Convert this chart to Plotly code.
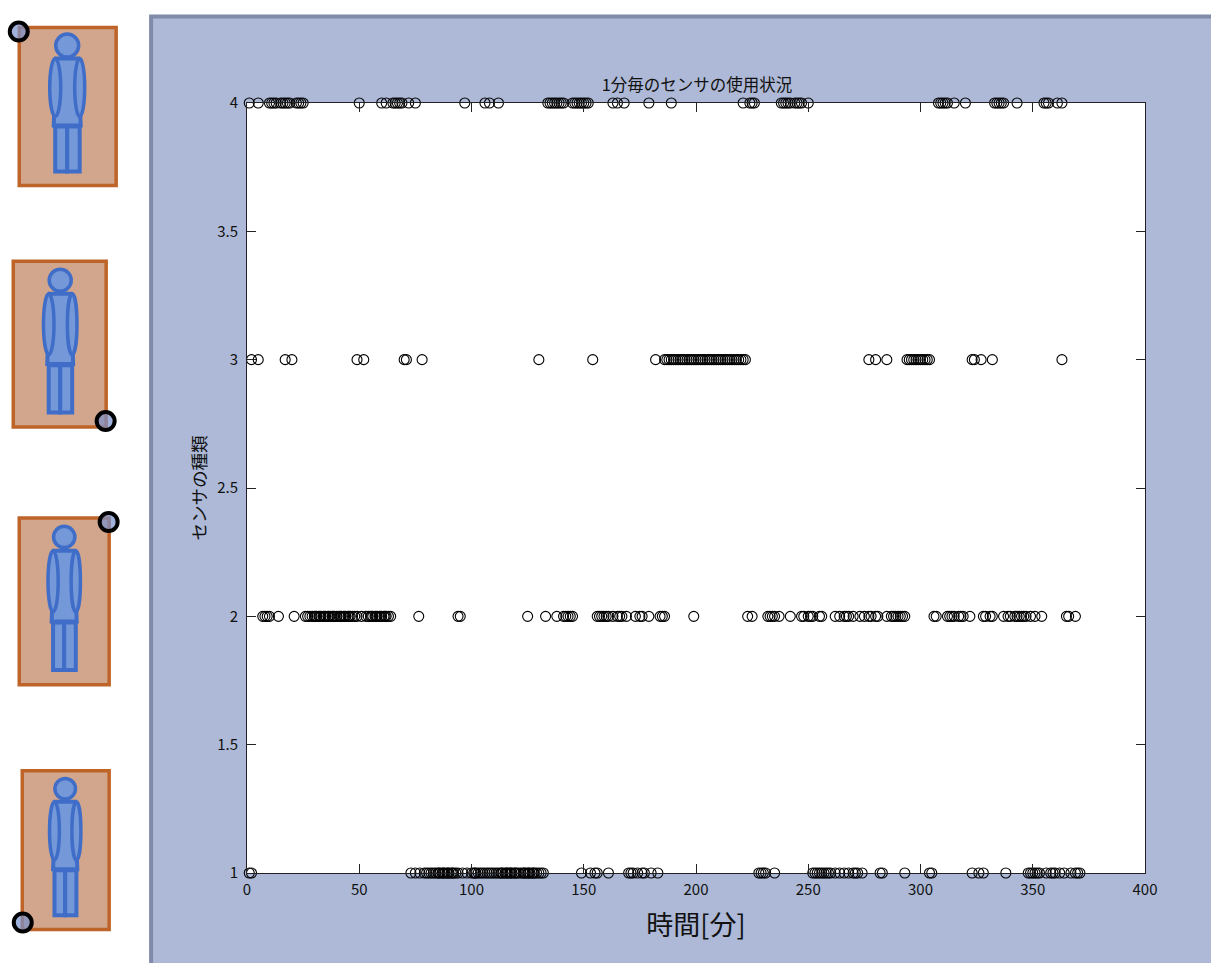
import plotly.graph_objects as go

# minutes at which each sensor was used
sensor1 = [1, 2, 73, 75, 77, 79, 80, 81, 82, 83, 84, 85, 85.5, 86, 87, 87.5, 88, 89, 89.5, 90, 91, 91.5, 92, 93, 94, 96,
           98, 100, 101, 101.5, 102, 103, 104, 105, 106, 107, 108, 109, 110, 111, 112, 113, 113.5, 114, 115, 115.5, 116, 117,
           117.5, 118, 119, 119.5, 120, 121, 122, 123, 123.5, 124, 125, 125.5, 126, 127, 127.5, 128,
           129, 130, 131, 132, 149, 153, 155, 156, 161, 170, 171, 172, 174, 176, 177, 180, 183,
           228, 229, 230, 231, 235, 252, 253, 254, 255, 256, 257, 258, 259, 260, 262, 264, 266, 268, 270, 271, 272,
           274, 282, 283, 293, 304, 305, 323, 326, 328, 338, 348, 349, 350, 351, 352, 353, 356, 358, 359, 360, 362,
           364, 367, 369, 370, 371]
sensor2 = [7, 8, 9, 10, 14, 21, 26, 27, 28, 29, 30, 30.5, 31, 32, 32.5, 33, 34, 34.5, 35, 36, 36.5, 37, 38, 38.5, 39, 40,
           41, 41.5, 42, 43, 43.5, 44, 45, 45.5, 46, 47,
           48, 49, 51, 53, 54, 55, 55.5, 56, 57, 57.5, 58, 59, 59.5, 60, 61, 61.5, 62, 63, 64, 76.5, 94, 95, 125, 133, 138, 141, 142, 143,
           144, 145, 156, 157, 158, 159, 160, 161, 163, 165, 166, 167, 169, 173, 175, 176, 179, 184, 185, 186, 199,
           223, 225, 232, 233, 234, 235, 237, 242, 247, 248, 250, 251, 252, 255, 256, 262, 264, 266, 267, 268, 270,
           273, 275, 277, 278, 280, 281, 285, 287, 288, 289, 290, 291, 292, 293, 306, 307, 312, 313, 314, 315, 317,
           318, 319, 322, 328, 329, 331, 332, 337, 339, 340, 342, 343, 344, 345, 346, 347, 349, 351, 354, 365, 366,
           369]
sensor3 = [2, 5, 17, 20, 49, 52, 70, 71, 78, 130, 154, 182, 186, 187, 188, 189, 190, 191, 192, 193, 194, 195, 196, 197, 198, 199, 200,
           201, 202, 203, 204, 205, 206, 207, 208, 209, 210, 211, 212, 213, 214, 215, 216, 217, 218, 219, 220, 221, 222, 277,
           280, 285, 294, 295, 296, 297, 298, 299, 300, 301, 302, 303, 304, 323, 324, 327, 332, 363]
sensor4 = [1, 5, 10, 11, 12, 13, 15, 16, 17, 18, 19, 22, 23, 24, 25, 50, 60, 62, 65, 66, 67, 68, 69, 72, 75, 97, 106,
           108, 112, 134, 135, 136, 137, 138, 139, 140, 141, 145, 146, 147, 148, 149, 150, 151, 152, 163, 165, 168,
           179, 189, 221, 224, 225, 226, 238, 239, 240, 241, 242, 244, 245, 246, 247, 250, 308, 309, 310, 311, 312,
           315, 320, 333, 334, 335, 336, 337, 343, 355, 356, 357, 361, 363]
sensors = {1: sensor1, 2: sensor2, 3: sensor3, 4: sensor4}

title_text = "1分毎のセンサの使用状況"
x_title = "時間[分]"
y_title = "センサの種類"

W, H = 1211, 963
L, R, T, B = 246.5, 1145.5, 102.5, 873.5
FONT = "Noto Sans CJK JP"


def px(x):
    return (x - L) / (R - L)


def py(y):
    return (B - y) / (B - T)


def rect(x0, y0, x1, y1, fill, line, width=3, kind="rect"):
    return dict(type=kind, xref="paper", yref="paper", x0=px(x0), x1=px(x1), y0=py(y0), y1=py(y1),
                fillcolor=fill, line=dict(color=line, width=width), layer="below")


def person(x0, y0, x1, y1, cx, mark):
    sx = (x1 - x0) / 97
    sy = (y1 - y0) / 158
    blue, light = "#3f6dc8", "#7498d8"
    out = [rect(x0, y0, x1, y1, "#d1a68c", "#bf6428", 3.5)]
    Y = lambda v: y0 + v * sy
    X = lambda v: cx + v * sx
    # legs
    out.append(rect(X(-12), Y(99), X(0), Y(144), light, blue, 4))
    out.append(rect(X(0), Y(99), X(12.5), Y(144), light, blue, 4))
    # torso
    pts = [(X(-11), Y(31)), (X(11), Y(31)), (X(13.5), Y(98)), (X(-13.5), Y(98))]
    path = "M " + " L ".join(f"{px(a):.5f} {py(b):.5f}" for a, b in pts) + " Z"
    out.append(dict(type="path", xref="paper", yref="paper", path=path, fillcolor=light,
                    line=dict(color=blue, width=4), layer="below"))
    # arms
    out.append(rect(X(-17.5), Y(31), X(-6.5), Y(89), light, blue, 3.5, "circle"))
    out.append(rect(X(7.5), Y(31), X(17.5), Y(89), light, blue, 3.5, "circle"))
    # head
    r = 11.5 * sx
    cy = Y(18)
    out.append(rect(cx - r, cy - r, cx + r, cy + r, light, blue, 3.5, "circle"))
    # corner marker
    mx, my = mark
    out.append(rect(mx - 9, my - 9, mx + 9, my + 9, "rgba(120,145,205,0.7)", "#000000", 4, "circle"))
    return out


shapes = [
    rect(150.5, 16, 1240, 1000, "#adb9d6", "#7f8ba8", 4),
    dict(type="rect", xref="x domain", yref="y domain", x0=0, x1=1, y0=0, y1=1,
         fillcolor="#ffffff", line=dict(width=0), layer="below"),
]
shapes += person(18.5, 27, 115.5, 185, 66.5, (18, 31))
shapes += person(12.5, 261, 105.5, 427, 59.5, (105, 421))
shapes += person(18.5, 518, 108.5, 685, 63.5, (108, 522))
shapes += person(21.5, 771, 108.5, 930, 64.5, (22, 923))

fig = go.Figure()
for level, minutes in sensors.items():
    fig.add_trace(go.Scatter(
        x=minutes, y=[level] * len(minutes), mode="markers", cliponaxis=False, showlegend=False,
        marker=dict(symbol="circle-open", size=10, color="#000000", line=dict(color="#000000", width=1.1)),
    ))

axis = dict(showgrid=False, zeroline=False, showline=True, linecolor="#222222", linewidth=1, mirror="ticks",
            ticks="inside", ticklen=9, tickcolor="#222222", tickwidth=1,
            tickfont=dict(family=FONT, size=15, color="#111111"))
fig.update_xaxes(range=[0, 400], dtick=50, ticklabelstandoff=3,
                 title=dict(text=x_title, font=dict(family=FONT, size=27, color="#111111"), standoff=18), **axis)
fig.update_yaxes(range=[1, 4], dtick=0.5, ticklabelstandoff=5,
                 title=dict(text=y_title, font=dict(family=FONT, size=17.5, color="#111111"), standoff=6), **axis)
fig.update_layout(
    width=W, height=H, autosize=False,
    margin=dict(l=L, r=W - R, t=T, b=H - B, pad=0),
    paper_bgcolor="#ffffff", plot_bgcolor="#ffffff",
    title=dict(text=title_text, font=dict(family=FONT, size=16.5, color="#111111"), x=px(697), xref="paper",
               xanchor="center", y=1 - 85 / H, yanchor="middle"),
    shapes=shapes,
)
fig.write_html("out.html", config=dict(displayModeBar=False),
               post_script="document.body.style.margin='0';document.body.style.overflow='hidden';")
